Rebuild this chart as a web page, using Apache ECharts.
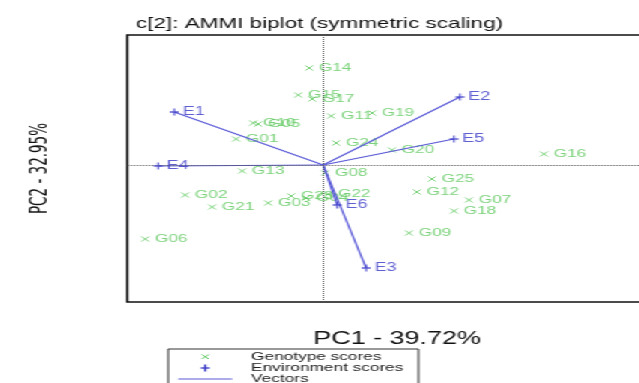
<!DOCTYPE html>
<html>
<head>
<meta charset="utf-8">
<script src="https://cdn.jsdelivr.net/npm/echarts@6/dist/echarts.min.js"></script>
<style>
html,body{margin:0;padding:0;background:#fff;}
#wrap{width:639px;height:383px;overflow:hidden;position:relative;}
#main{width:426px;height:383px;transform:scaleX(1.5);transform-origin:0 0;}
</style>
</head>
<body>
<div id="wrap"><div id="main"></div></div>
<script>
// Genotype scores (PC1, PC2)
const genoNames = ['G01','G02','G03','G04','G05','G06','G07','G08','G09','G10','G11','G12','G13','G14','G15','G16','G17','G18','G19','G20','G21','G22','G23','G24','G25'];
const genoPC1 = [-0.87,-1.38,-0.55,-0.17,-0.65,-1.78,1.46,0.02,0.86,-0.70,0.08,0.94,-0.81,-0.14,-0.25,2.21,-0.11,1.31,0.49,0.69,-1.11,0.05,-0.32,0.13,1.09];
const genoPC2 = [0.52,-0.60,-0.76,-0.66,0.82,-1.48,-0.70,-0.16,-1.36,0.84,0.98,-0.54,-0.12,1.94,1.40,0.22,1.32,-0.92,1.04,0.30,-0.84,-0.58,-0.62,0.44,-0.28];
// Environment scores (PC1, PC2)
const envNames = ['E1','E2','E3','E4','E5','E6'];
const envPC1 = [-1.49,1.37,0.43,-1.65,1.31,0.14];
const envPC2 = [1.06,1.36,-2.06,-0.02,0.52,-0.80];
// Text
const titleText = 'c[2]: AMMI biplot (symmetric scaling)';
const xTitle = 'PC1 - 39.72%';
const yTitle = 'PC2 - 32.95%';
const legendLabels = ['Genotype scores','Environment scores','Vectors'];

const green = '#5cc85c';
const blue = '#3838c8';
const vecBlue = '#5a5ad8';
const FONT = "'Liberation Sans', Arial, sans-serif";
const CROSS = 'path://M0,0L10,10M10,0L0,10';
const PLUS = 'path://M0,5L10,5M5,0L5,10';

const chart = echarts.init(document.getElementById('main'), null, {renderer:'canvas'});
const option = {
  animation: false,
  backgroundColor: '#fff',
  title: {
    text: titleText, left: 'center', top: 11,
    textStyle: {fontFamily: FONT, fontSize: 15, fontWeight: 'normal', color: '#111'}
  },
  grid: {left: 84.7, top: 35, width: 360, height: 267, outerBoundsMode: 'none', containLabel: false,
         show: true, borderColor: '#111', borderWidth: 1.5, backgroundColor: 'transparent'},
  xAxis: {
    type: 'value', min: -1.96, max: 3.44,
    axisLine: {show: false}, axisTick: {show: false}, axisLabel: {show: false}, splitLine: {show: false},
    name: xTitle, nameLocation: 'middle', nameGap: 28,
    nameTextStyle: {fontFamily: FONT, fontSize: 18, color: '#111'}
  },
  yAxis: {
    type: 'value', min: -2.74, max: 2.6,
    axisLine: {show: false}, axisTick: {show: false}, axisLabel: {show: false}, splitLine: {show: false},
    name: yTitle, nameLocation: 'middle', nameGap: 50,
    nameTextStyle: {fontFamily: "'Liberation Sans Narrow','DejaVu Sans Condensed',sans-serif", fontSize: 15, color: '#111'}
  },
  series: [
    {
      type: 'scatter', name: 'Genotype scores', z: 3,
      symbol: CROSS, symbolSize: [5, 5],
      itemStyle: {color: 'transparent', borderColor: green, borderWidth: 1},
      label: {show: true, position: 'right', distance: 3.5, formatter: '{b}', color: green, fontFamily: FONT, fontSize: 11.5},
      data: genoNames.map((n, i) => ({name: n, value: [genoPC1[i], genoPC2[i]]})),
      markLine: {
        silent: true, symbol: 'none', label: {show: false},
        lineStyle: {type: 'dotted', color: '#555', width: 1},
        data: [{xAxis: 0}, {yAxis: 0}]
      }
    },
    {
      type: 'lines', name: 'Vectors', coordinateSystem: 'cartesian2d', z: 4,
      lineStyle: {color: vecBlue, width: 1.2, opacity: 1},
      data: envNames.map((n, i) => ({coords: [[0, 0], [envPC1[i], envPC2[i]]]}))
    },
    {
      type: 'scatter', name: 'Environment scores', z: 5,
      symbol: PLUS, symbolSize: [6, 7],
      itemStyle: {color: 'transparent', borderColor: blue, borderWidth: 1.3},
      label: {show: true, position: 'right', distance: 2, formatter: '{b}', color: blue, fontFamily: FONT, fontSize: 12},
      data: envNames.map((n, i) => ({name: n, value: [envPC1[i], envPC2[i]]}))
    }
  ],
  graphic: [
    {type: 'rect', shape: {x: 112, y: 349, width: 167, height: 44}, style: {fill: '#fff', stroke: '#333', lineWidth: 1}},
    {type: 'line', shape: {x1: 134.5, y1: 354.5, x2: 139, y2: 359}, style: {stroke: green, lineWidth: 1}},
    {type: 'line', shape: {x1: 139, y1: 354.5, x2: 134.5, y2: 359}, style: {stroke: green, lineWidth: 1}},
    {type: 'line', shape: {x1: 133.7, y1: 368, x2: 139.7, y2: 368}, style: {stroke: blue, lineWidth: 1.3}},
    {type: 'line', shape: {x1: 136.7, y1: 364.5, x2: 136.7, y2: 371.5}, style: {stroke: blue, lineWidth: 1.3}},
    {type: 'line', shape: {x1: 118.7, y1: 379, x2: 154.7, y2: 379}, style: {stroke: vecBlue, lineWidth: 1.2}},
    {type: 'text', x: 167.3, y: 357, style: {text: legendLabels[0], fill: '#222', font: "11.5px 'Liberation Sans', Arial, sans-serif", textVerticalAlign: 'middle', verticalAlign: 'middle'}},
    {type: 'text', x: 167.3, y: 368, style: {text: legendLabels[1], fill: '#222', font: "11.5px 'Liberation Sans', Arial, sans-serif", textVerticalAlign: 'middle', verticalAlign: 'middle'}},
    {type: 'text', x: 167.3, y: 379, style: {text: legendLabels[2], fill: '#222', font: "11.5px 'Liberation Sans', Arial, sans-serif", textVerticalAlign: 'middle', verticalAlign: 'middle'}}
  ]
};
chart.setOption(option);
</script>
</body>
</html>
